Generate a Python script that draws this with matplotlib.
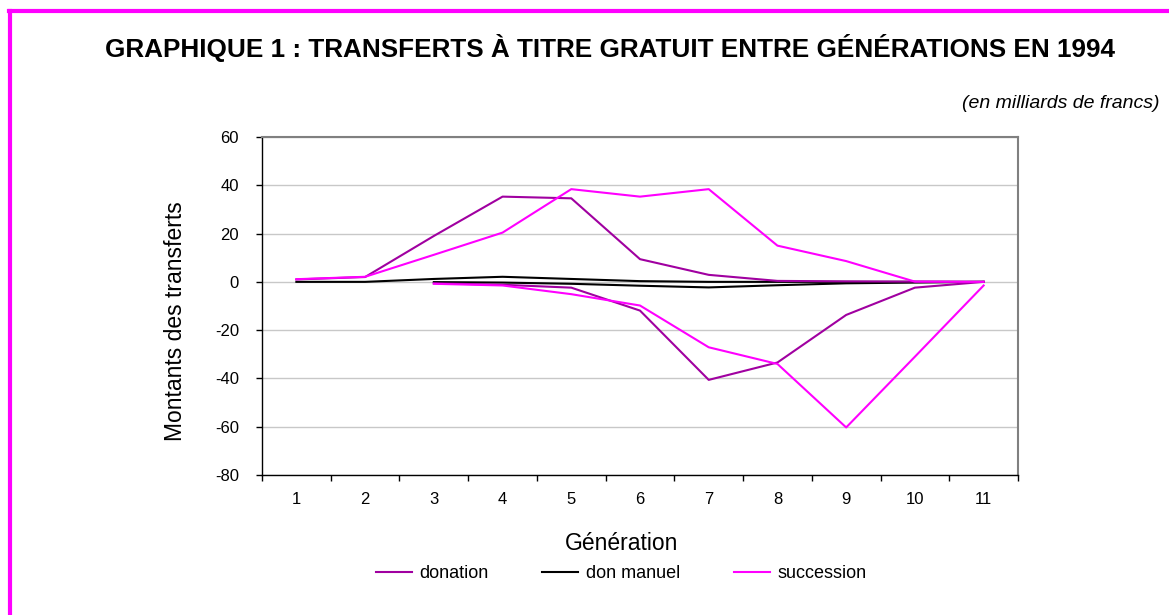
import numpy as np
import matplotlib.pyplot as plt
from matplotlib.lines import Line2D

plt.rcParams['font.family'] = ['Liberation Sans', 'DejaVu Sans']
plt.rcParams['axes.unicode_minus'] = False

generations = ["1", "2", "3", "4", "5", "6", "7", "8", "9", "10", "11"]
nan = np.nan

# positive side (received) and negative side (given), milliards de francs
donation_pos = [1.0, 2.0, 19.0, 35.3, 34.6, 9.4, 2.9, 0.4, 0.2, 0.1, 0.0]
donation_neg = [nan, nan, -0.6, -1.2, -2.4, -11.9, -40.6, -33.4, -13.7, -2.4, 0.0]
don_manuel_pos = [0.0, 0.0, 1.2, 2.1, 1.2, 0.3, 0.0, 0.0, 0.0, 0.0, 0.0]
don_manuel_neg = [nan, nan, -0.1, -0.3, -0.8, -1.6, -2.3, -1.4, -0.6, -0.3, 0.0]
succession_pos = [1.1, 2.1, 11.2, 20.4, 38.4, 35.3, 38.4, 15.0, 8.6, 0.1, 0.0]
succession_neg = [nan, nan, -0.8, -1.5, -5.1, -9.8, -27.1, -34.0, -60.3, -31.0, -1.5]

series_names = ["donation", "don manuel", "succession"]
colors = ["#A000A0", "#000000", "#FF00FF"]

fig = plt.figure(figsize=(11.69, 6.15), dpi=100)
ax = fig.add_axes([262 / 1169, 140 / 615, 756 / 1169, 338 / 615])

x = np.arange(len(generations))
ax.plot(x, don_manuel_pos, color=colors[1], lw=1.5)
ax.plot(x, don_manuel_neg, color=colors[1], lw=1.5)
ax.plot(x, donation_pos, color=colors[0], lw=1.5)
ax.plot(x, donation_neg, color=colors[0], lw=1.5)
ax.plot(x, succession_pos, color=colors[2], lw=1.5)
ax.plot(x, succession_neg, color=colors[2], lw=1.5)

ax.set_xlim(-0.5, len(generations) - 0.5)
ax.set_ylim(-80, 60)
ax.set_yticks(np.arange(-80, 61, 20))
ax.yaxis.grid(True, color="#C8C8C8", lw=1)
ax.set_axisbelow(True)

ax.set_xticks(x)
ax.set_xticklabels(generations)
ax.set_xticks(np.arange(-0.5, len(generations), 1), minor=True)
ax.tick_params(axis="x", which="major", length=0, pad=12, labelsize=12)
ax.tick_params(axis="x", which="minor", length=4.5, width=1, direction="out")
ax.tick_params(axis="y", length=4.5, width=1, direction="out", pad=12, labelsize=12)

for side in ["top", "right"]:
    ax.spines[side].set_color("#808080")
    ax.spines[side].set_linewidth(1.5)
ax.spines["left"].set_linewidth(1)
ax.spines["bottom"].set_linewidth(1)

ax.set_ylabel("Montants des transferts", fontsize=16.5)
ax.yaxis.set_label_coords(-0.099, 0.456)
ax.set_xlabel("Génération", fontsize=16.5)
ax.xaxis.set_label_coords(0.475, -0.17)

handles = [Line2D([], [], color=c, lw=1.5) for c in colors]
fig.legend(handles, series_names, loc="center", bbox_to_anchor=(621 / 1169, 1 - 574 / 615),
           ncol=3, frameon=False, fontsize=13, columnspacing=3.0, handlelength=2.0,
           handletextpad=0.4)

fig.text(610 / 1169, 1 - 48 / 615,
         "GRAPHIQUE 1 : TRANSFERTS À TITRE GRATUIT ENTRE GÉNÉRATIONS EN 1994",
         ha="center", va="center", fontsize=18.8, fontweight="bold")
fig.text(1160 / 1169, 1 - 103 / 615, "(en milliards de francs)", ha="right", va="center",
         fontsize=14, style="italic")

# magenta frame (top and left edges visible)
fig.add_artist(Line2D([10 / 1169, 10 / 1169], [0, 1 - 11 / 615], color="#FF00FF", lw=3,
                      transform=fig.transFigure))
fig.add_artist(Line2D([8.5 / 1169, 1], [1 - 11 / 615, 1 - 11 / 615], color="#FF00FF", lw=3,
                      transform=fig.transFigure))

fig.savefig("out.png", dpi=100)
